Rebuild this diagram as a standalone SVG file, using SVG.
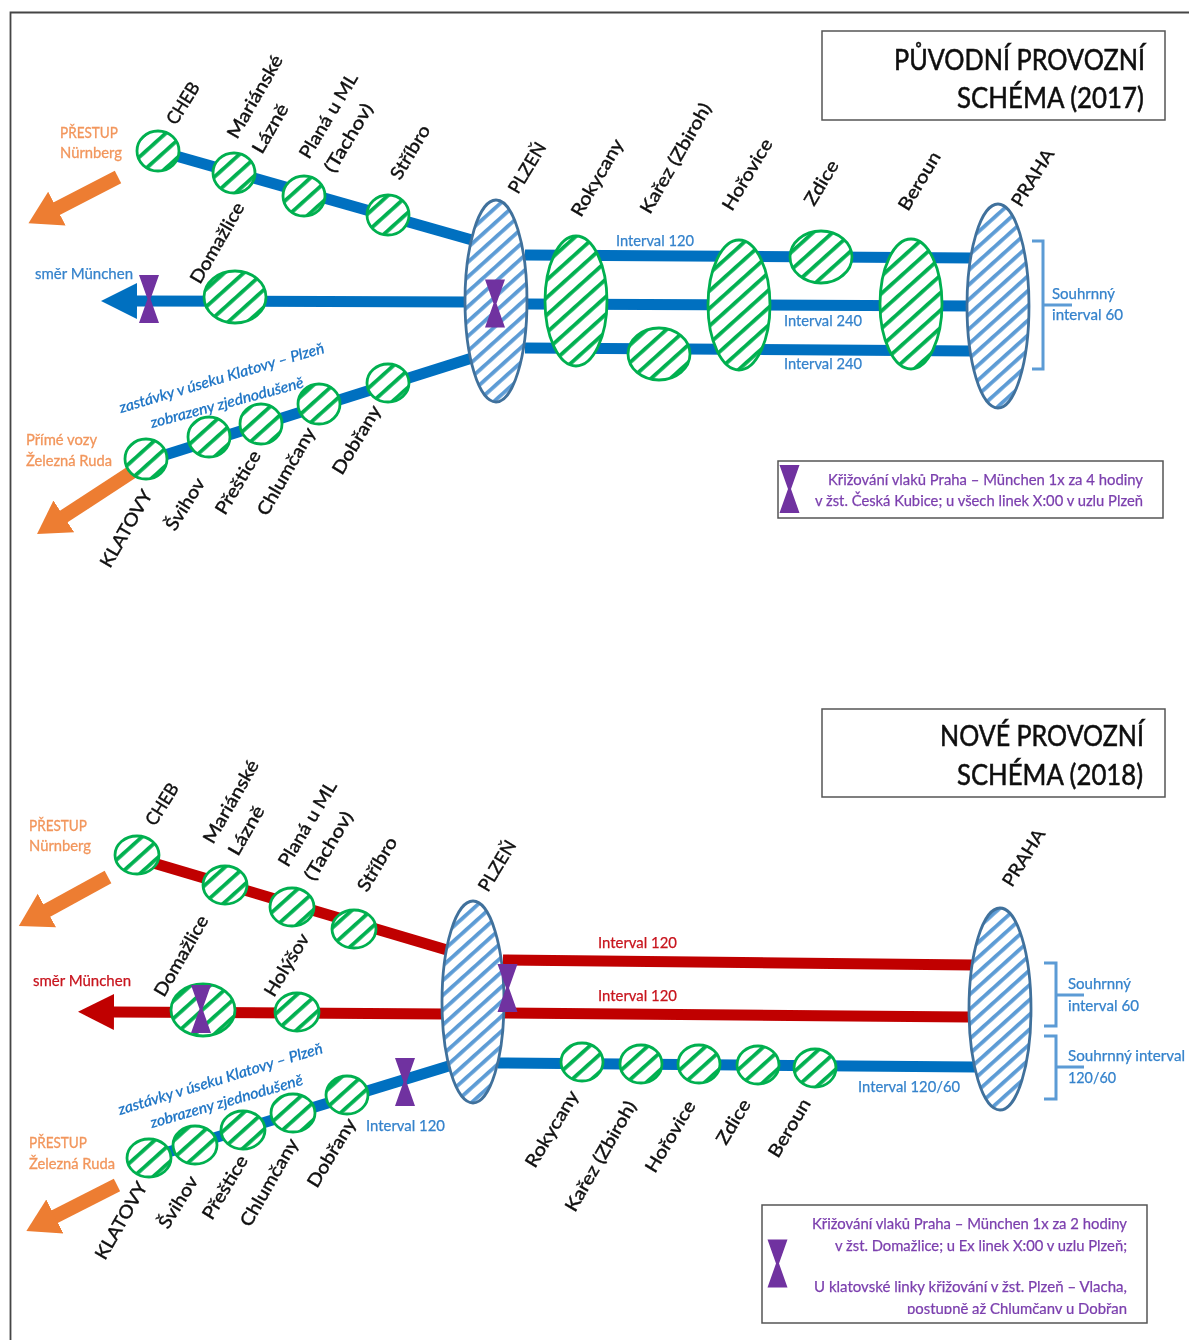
<svg xmlns="http://www.w3.org/2000/svg" width="1189" height="1340" viewBox="0 0 1189 1340">
<style>
text{font-family:Lato,"Liberation Sans","Noto Sans",sans-serif}
.st{fill:url(#hg);stroke:#00b050;stroke-width:2.8}
.hub{fill:url(#hb);stroke:#41719c;stroke-width:2.8}
.lb{stroke:#0070c0;stroke-width:11;fill:none}
.lr{stroke:#c00000;stroke-width:11;fill:none}
.lo{stroke:#ed7d31;stroke-width:14;fill:none;marker-end:url(#ao)}
.br{stroke:#5b9bd5;stroke-width:3;fill:none}
.box{fill:#fff;stroke:#555;stroke-width:1.5}
.n{font-size:18px;fill:#111;stroke:#111;stroke-width:.4}
.t{font-size:28px;fill:#111;stroke:#111;stroke-width:.55;text-anchor:end}
.o{font-size:15px;fill:#f2965c;stroke:#f2965c;stroke-width:.3}
.b{font-size:15px;fill:#3583cc;stroke:#3583cc;stroke-width:.25}
.r{font-size:15px;fill:#c8141e;stroke:#c8141e;stroke-width:.25}
.i{font-size:15px;fill:#1a72c4;font-style:italic;stroke:#1a72c4;stroke-width:.3}
.p{font-size:15px;fill:#7b3fae;stroke:#7b3fae;stroke-width:.25;text-anchor:end}
</style>
<defs>
<pattern id="hg" width="13" height="13" patternUnits="userSpaceOnUse" patternTransform="rotate(-42)"><rect width="13" height="13" fill="#fff"/><rect y="0" width="13" height="3.800" fill="#00b050"/></pattern>
<pattern id="hb" width="11" height="11" patternUnits="userSpaceOnUse" patternTransform="rotate(-42)"><rect width="11" height="11" fill="#fff"/><rect y="0" width="11" height="3.800" fill="#5b9bd5"/></pattern>
<marker id="ao" markerUnits="userSpaceOnUse" markerWidth="40" markerHeight="44" refX="1" refY="22" orient="auto"><path d="M0 3L32 22L0 41Z" fill="#ed7d31"/></marker>
<marker id="ab" markerUnits="userSpaceOnUse" markerWidth="40" markerHeight="40" refX="1" refY="18" orient="auto"><path d="M0 0L36 18L0 36Z" fill="#0070c0"/></marker>
<marker id="ar" markerUnits="userSpaceOnUse" markerWidth="40" markerHeight="40" refX="1" refY="18" orient="auto"><path d="M0 0L36 18L0 36Z" fill="#c00000"/></marker>
<path id="x" d="M-10 -24H10L1.500 0L10 24H-10L-1.500 0Z" fill="#7030a0"/>
<clipPath id="cl"><rect x="762" y="1205" width="385" height="109"/></clipPath>
<filter id="soft" x="0" y="0" width="100%" height="100%" filterUnits="objectBoundingBox"><feGaussianBlur stdDeviation="0.45"/></filter>
</defs>
<g id="diagram" filter="url(#soft)">
<rect x="0" y="0" width="1189" height="1340" fill="#fff"/>
<path d="M1189 12.500H10.500V1340" fill="none" stroke="#444" stroke-width="1.800"/>

<g id="connectors">
<path class="lb" d="M176 156L472 240"/>
<path class="lb" d="M470 302L136 301" style="marker-end:url(#ab)"/>
<path class="lb" d="M165 455L472 358"/>
<path class="lb" d="M525 255L972 258"/>
<path class="lb" d="M525 304L972 306"/>
<path class="lb" d="M525 348L972 351"/>
<path class="lo" d="M118 177L56 209"/>
<path class="lo" d="M135 470L63 517"/>
<path class="br" d="M1032 241H1043V369H1032M1043 305H1072"/>
<path class="lr" d="M150 862L447 950"/>
<path class="lr" d="M445 1014L113 1012" style="marker-end:url(#ar)"/>
<path class="lr" d="M503 960L973 965"/>
<path class="lr" d="M503 1013L969 1017"/>
<path class="lb" d="M165 1153L452 1065"/>
<path class="lb" d="M498 1063L975 1067"/>
<path class="lo" d="M108 877L46 911"/>
<path class="lo" d="M117 1185L54 1217"/>
<path class="br" d="M1044 963H1056V1026H1044M1056 995H1084"/>
<path class="br" d="M1044 1036H1056V1099H1044M1056 1067H1084"/>
</g>

<g id="title-2017"><rect class="box" x="822" y="31" width="343" height="89"/><text class="t" x="1145" y="70" textLength="251" lengthAdjust="spacingAndGlyphs">PŮVODNÍ PROVOZNÍ</text><text class="t" x="1144" y="108" textLength="187" lengthAdjust="spacingAndGlyphs">SCHÉMA (2017)</text></g>
<g id="legend-2017"><rect class="box" x="778" y="461" width="385" height="57"/><use href="#x" x="789.500" y="489"/><text class="p" x="1143" y="485" textLength="315" lengthAdjust="spacingAndGlyphs">Křižování vlaků Praha – München 1x za 4 hodiny</text><text class="p" x="1143" y="506" textLength="328" lengthAdjust="spacingAndGlyphs">v žst. Česká Kubice; u všech linek X:00 v uzlu Plzeň</text></g>
<g id="title-2018"><rect class="box" x="822" y="709" width="343" height="88"/><text class="t" x="1144" y="746" textLength="204" lengthAdjust="spacingAndGlyphs">NOVÉ PROVOZNÍ</text><text class="t" x="1143" y="785" textLength="186" lengthAdjust="spacingAndGlyphs">SCHÉMA (2018)</text></g>
<g id="legend-2018"><rect class="box" x="762" y="1205" width="385" height="118"/><use href="#x" x="777.500" y="1263.500"/><text class="p" x="1127" y="1229" textLength="315" lengthAdjust="spacingAndGlyphs">Křižování vlaků Praha – München 1x za 2 hodiny</text><text class="p" x="1127" y="1251" textLength="292" lengthAdjust="spacingAndGlyphs">v žst. Domažlice; u Ex linek X:00 v uzlu Plzeň;</text><text class="p" x="1127" y="1292" textLength="313" lengthAdjust="spacingAndGlyphs">U klatovské linky křižování v žst. Plzeň – Vlacha,</text><text class="p" x="1127" y="1314" textLength="220" lengthAdjust="spacingAndGlyphs" clip-path="url(#cl)">postupně až Chlumčany u Dobřan</text></g>

<g id="a-cheb"><ellipse class="st" cx="158" cy="151" rx="21" ry="20"/><text class="n" transform="translate(176 126) rotate(-58)" textLength="46" lengthAdjust="spacingAndGlyphs">CHEB</text></g>
<g id="a-marianske"><ellipse class="st" cx="234" cy="173" rx="21" ry="20"/><text class="n" transform="translate(237 140) rotate(-60)" textLength="93" lengthAdjust="spacingAndGlyphs">Mariánské</text><text class="n" transform="translate(262 155) rotate(-60)" textLength="54" lengthAdjust="spacingAndGlyphs">Lázně</text></g>
<g id="a-plana"><ellipse class="st" cx="304" cy="196" rx="21" ry="20"/><text class="n" transform="translate(309 160) rotate(-59)" textLength="96" lengthAdjust="spacingAndGlyphs">Planá u ML</text><text class="n" transform="translate(334 174) rotate(-59)" textLength="77" lengthAdjust="spacingAndGlyphs">(Tachov)</text></g>
<g id="a-stribro"><ellipse class="st" cx="388" cy="215" rx="21" ry="20"/><text class="n" transform="translate(400 181) rotate(-59)" textLength="60" lengthAdjust="spacingAndGlyphs">Stříbro</text></g>
<g id="a-domazlice"><ellipse class="st" cx="235" cy="297" rx="31" ry="26"/><text class="n" transform="translate(200 285) rotate(-60)" textLength="90" lengthAdjust="spacingAndGlyphs">Domažlice</text></g>
<g id="a-dobrany"><ellipse class="st" cx="388" cy="383" rx="21" ry="19"/><text class="n" transform="translate(342 476) rotate(-59)" textLength="77" lengthAdjust="spacingAndGlyphs">Dobřany</text></g>
<g id="a-chlumcany"><ellipse class="st" cx="319" cy="404" rx="21" ry="20"/><text class="n" transform="translate(267 517) rotate(-60)" textLength="98" lengthAdjust="spacingAndGlyphs">Chlumčany</text></g>
<g id="a-prestice"><ellipse class="st" cx="261" cy="424" rx="21" ry="20"/><text class="n" transform="translate(225 516) rotate(-59)" textLength="71" lengthAdjust="spacingAndGlyphs">Přeštice</text></g>
<g id="a-svihov"><ellipse class="st" cx="209" cy="437" rx="21" ry="20"/><text class="n" transform="translate(175 532) rotate(-58)" textLength="58" lengthAdjust="spacingAndGlyphs">Švihov</text></g>
<g id="a-klatovy"><ellipse class="st" cx="146" cy="459" rx="21" ry="20"/><text class="n" transform="translate(110 569) rotate(-60)" textLength="86" lengthAdjust="spacingAndGlyphs">KLATOVY</text></g>
<g id="a-plzen"><ellipse class="hub" cx="496" cy="301" rx="31" ry="101"/><text class="n" transform="translate(518 195) rotate(-59)" textLength="56" lengthAdjust="spacingAndGlyphs">PLZEŇ</text></g>
<g id="a-rokycany"><ellipse class="st" cx="576" cy="301" rx="31" ry="65"/><text class="n" transform="translate(581 218) rotate(-60)" textLength="86" lengthAdjust="spacingAndGlyphs">Rokycany</text></g>
<g id="a-karez"><ellipse class="st" cx="659" cy="354" rx="31" ry="26"/><text class="n" transform="translate(650 215) rotate(-60)" textLength="124" lengthAdjust="spacingAndGlyphs">Kařez (Zbiroh)</text></g>
<g id="a-horovice"><ellipse class="st" cx="739" cy="305" rx="31" ry="65"/><text class="n" transform="translate(732 212) rotate(-59)" textLength="80" lengthAdjust="spacingAndGlyphs">Hořovice</text></g>
<g id="a-zdice"><ellipse class="st" cx="821" cy="257" rx="31" ry="26"/><text class="n" transform="translate(814 207) rotate(-59)" textLength="49" lengthAdjust="spacingAndGlyphs">Zdice</text></g>
<g id="a-beroun"><ellipse class="st" cx="911" cy="304" rx="31" ry="65"/><text class="n" transform="translate(908 212) rotate(-59)" textLength="65" lengthAdjust="spacingAndGlyphs">Beroun</text></g>
<g id="a-praha"><ellipse class="hub" cx="998" cy="306" rx="31" ry="102"/><text class="n" transform="translate(1021 208) rotate(-58)" textLength="64" lengthAdjust="spacingAndGlyphs">PRAHA</text></g>
<g id="a-crossings"><use href="#x" x="149" y="299"/><use href="#x" x="495" y="303.500"/></g>

<g id="a-labels">
<text class="o" x="60" y="138" textLength="58" lengthAdjust="spacingAndGlyphs">PŘESTUP</text><text class="o" x="60" y="158" textLength="62" lengthAdjust="spacingAndGlyphs">Nürnberg</text>
<text class="b" x="35" y="279" textLength="98" lengthAdjust="spacingAndGlyphs">směr München</text>
<text class="o" x="26" y="445" textLength="71" lengthAdjust="spacingAndGlyphs">Přímé vozy</text><text class="o" x="26" y="466" textLength="86" lengthAdjust="spacingAndGlyphs">Železná Ruda</text>
<text class="i" transform="translate(121 413) rotate(-16.500)" textLength="213" lengthAdjust="spacingAndGlyphs">zastávky v úseku Klatovy – Plzeň</text>
<text class="i" transform="translate(152 428) rotate(-15)" textLength="158" lengthAdjust="spacingAndGlyphs">zobrazeny zjednodušeně</text>
<text class="b" x="616" y="246" textLength="78" lengthAdjust="spacingAndGlyphs">Interval 120</text>
<text class="b" x="784" y="326" textLength="78" lengthAdjust="spacingAndGlyphs">Interval 240</text>
<text class="b" x="784" y="369" textLength="78" lengthAdjust="spacingAndGlyphs">Interval 240</text>
<text class="b" x="1052" y="299" textLength="63" lengthAdjust="spacingAndGlyphs">Souhrnný</text><text class="b" x="1052" y="320" textLength="71" lengthAdjust="spacingAndGlyphs">interval 60</text>
</g>

<g id="b-cheb"><ellipse class="st" cx="137" cy="855" rx="22" ry="19"/><text class="n" transform="translate(155 827) rotate(-58)" textLength="46" lengthAdjust="spacingAndGlyphs">CHEB</text></g>
<g id="b-marianske"><ellipse class="st" cx="225" cy="885" rx="22" ry="19"/><text class="n" transform="translate(213 845) rotate(-60)" textLength="93" lengthAdjust="spacingAndGlyphs">Mariánské</text><text class="n" transform="translate(238 857) rotate(-60)" textLength="54" lengthAdjust="spacingAndGlyphs">Lázně</text></g>
<g id="b-plana"><ellipse class="st" cx="292" cy="907" rx="22" ry="19"/><text class="n" transform="translate(288 868) rotate(-59)" textLength="96" lengthAdjust="spacingAndGlyphs">Planá u ML</text><text class="n" transform="translate(314 882) rotate(-59)" textLength="77" lengthAdjust="spacingAndGlyphs">(Tachov)</text></g>
<g id="b-stribro"><ellipse class="st" cx="354" cy="929" rx="22" ry="19"/><text class="n" transform="translate(367 893) rotate(-59)" textLength="60" lengthAdjust="spacingAndGlyphs">Stříbro</text></g>
<g id="b-domazlice"><ellipse class="st" cx="203" cy="1010" rx="32" ry="26"/><text class="n" transform="translate(164 998) rotate(-60)" textLength="90" lengthAdjust="spacingAndGlyphs">Domažlice</text></g>
<g id="b-holysov"><ellipse class="st" cx="297" cy="1012" rx="22" ry="19"/><text class="n" transform="translate(274 998) rotate(-59)" textLength="70" lengthAdjust="spacingAndGlyphs">Holýšov</text></g>
<g id="b-dobrany"><ellipse class="st" cx="347" cy="1095" rx="21" ry="19"/><text class="n" transform="translate(317 1189) rotate(-59)" textLength="77" lengthAdjust="spacingAndGlyphs">Dobřany</text></g>
<g id="b-chlumcany"><ellipse class="st" cx="293" cy="1113" rx="22" ry="19"/><text class="n" transform="translate(250 1228) rotate(-60)" textLength="98" lengthAdjust="spacingAndGlyphs">Chlumčany</text></g>
<g id="b-prestice"><ellipse class="st" cx="243" cy="1130" rx="22" ry="19"/><text class="n" transform="translate(212 1221) rotate(-59)" textLength="71" lengthAdjust="spacingAndGlyphs">Přeštice</text></g>
<g id="b-svihov"><ellipse class="st" cx="195" cy="1145" rx="22" ry="19"/><text class="n" transform="translate(168 1230) rotate(-58)" textLength="58" lengthAdjust="spacingAndGlyphs">Švihov</text></g>
<g id="b-klatovy"><ellipse class="st" cx="149" cy="1158" rx="22" ry="19"/><text class="n" transform="translate(105 1261) rotate(-60)" textLength="86" lengthAdjust="spacingAndGlyphs">KLATOVY</text></g>
<g id="b-plzen"><ellipse class="hub" cx="473" cy="1002" rx="31" ry="101"/><text class="n" transform="translate(488 893) rotate(-59)" textLength="56" lengthAdjust="spacingAndGlyphs">PLZEŇ</text></g>
<g id="b-praha"><ellipse class="hub" cx="1000" cy="1009" rx="31" ry="101"/><text class="n" transform="translate(1012 888) rotate(-58)" textLength="64" lengthAdjust="spacingAndGlyphs">PRAHA</text></g>
<g id="b-rokycany"><ellipse class="st" cx="582" cy="1062" rx="21" ry="19"/><text class="n" transform="translate(535 1169) rotate(-59)" textLength="86" lengthAdjust="spacingAndGlyphs">Rokycany</text></g>
<g id="b-karez"><ellipse class="st" cx="641" cy="1064" rx="21" ry="19"/><text class="n" transform="translate(575 1213) rotate(-60)" textLength="124" lengthAdjust="spacingAndGlyphs">Kařez (Zbiroh)</text></g>
<g id="b-horovice"><ellipse class="st" cx="699" cy="1064" rx="21" ry="19"/><text class="n" transform="translate(655 1174) rotate(-59)" textLength="80" lengthAdjust="spacingAndGlyphs">Hořovice</text></g>
<g id="b-zdice"><ellipse class="st" cx="758" cy="1065" rx="21" ry="19"/><text class="n" transform="translate(726 1146) rotate(-59)" textLength="49" lengthAdjust="spacingAndGlyphs">Zdice</text></g>
<g id="b-beroun"><ellipse class="st" cx="815" cy="1068" rx="21" ry="19"/><text class="n" transform="translate(778 1159) rotate(-59)" textLength="65" lengthAdjust="spacingAndGlyphs">Beroun</text></g>
<g id="b-crossings"><use href="#x" x="201" y="1009"/><use href="#x" x="507.500" y="988"/><use href="#x" x="405" y="1082"/></g>

<g id="b-labels">
<text class="o" x="29" y="831" textLength="58" lengthAdjust="spacingAndGlyphs">PŘESTUP</text><text class="o" x="29" y="851" textLength="62" lengthAdjust="spacingAndGlyphs">Nürnberg</text>
<text class="r" x="33" y="986" textLength="98" lengthAdjust="spacingAndGlyphs">směr München</text>
<text class="o" x="29" y="1148" textLength="58" lengthAdjust="spacingAndGlyphs">PŘESTUP</text><text class="o" x="29" y="1169" textLength="86" lengthAdjust="spacingAndGlyphs">Železná Ruda</text>
<text class="i" transform="translate(120 1115) rotate(-17)" textLength="213" lengthAdjust="spacingAndGlyphs">zastávky v úseku Klatovy – Plzeň</text>
<text class="i" transform="translate(152 1128) rotate(-16)" textLength="158" lengthAdjust="spacingAndGlyphs">zobrazeny zjednodušeně</text>
<text class="b" x="366" y="1131" textLength="79" lengthAdjust="spacingAndGlyphs">Interval 120</text>
<text class="r" x="598" y="948" textLength="79" lengthAdjust="spacingAndGlyphs">Interval 120</text>
<text class="r" x="598" y="1001" textLength="79" lengthAdjust="spacingAndGlyphs">Interval 120</text>
<text class="b" x="858" y="1092" textLength="102" lengthAdjust="spacingAndGlyphs">Interval 120/60</text>
<text class="b" x="1068" y="989" textLength="63" lengthAdjust="spacingAndGlyphs">Souhrnný</text><text class="b" x="1068" y="1011" textLength="71" lengthAdjust="spacingAndGlyphs">interval 60</text>
<text class="b" x="1068" y="1061" textLength="117" lengthAdjust="spacingAndGlyphs">Souhrnný interval</text><text class="b" x="1068" y="1083" textLength="48" lengthAdjust="spacingAndGlyphs">120/60</text>
</g>
</g>
</svg>
